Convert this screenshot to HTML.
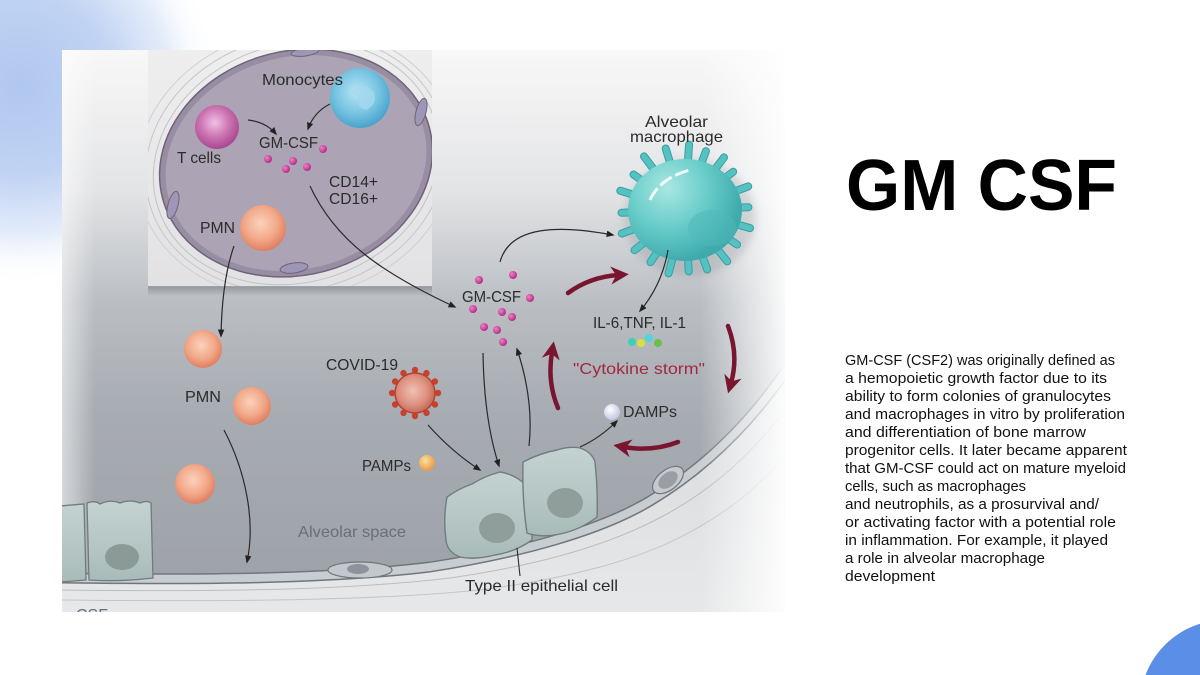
<!DOCTYPE html>
<html><head><meta charset="utf-8"><style>
html,body{margin:0;padding:0;background:#fff;width:1200px;height:675px;overflow:hidden;}
body{position:relative;}
svg{position:absolute;left:0;top:0;display:block;}
text{font-family:"Liberation Sans",sans-serif;}
</style></head><body>
<svg width="1200" height="675" viewBox="0 0 1200 675" xmlns="http://www.w3.org/2000/svg">
<defs>
  <radialGradient id="blob" gradientUnits="userSpaceOnUse" cx="20" cy="85" r="200">
    <stop offset="0" stop-color="#b0c7ef"/>
    <stop offset="0.45" stop-color="#c0d3f3"/>
    <stop offset="0.75" stop-color="#e4ecfa"/>
    <stop offset="1" stop-color="#ffffff" stop-opacity="0"/>
  </radialGradient>
  <linearGradient id="bgMain" gradientUnits="userSpaceOnUse" x1="0" y1="50" x2="0" y2="612">
    <stop offset="0" stop-color="#f8f8f8"/>
    <stop offset="0.25" stop-color="#e3e4e6"/>
    <stop offset="0.45" stop-color="#babec3"/>
    <stop offset="0.65" stop-color="#a7acb2"/>
    <stop offset="1" stop-color="#9ca1a7"/>
  </linearGradient>
  <linearGradient id="rightFade" gradientUnits="userSpaceOnUse" x1="700" y1="0" x2="785" y2="0">
    <stop offset="0" stop-color="#fff" stop-opacity="0"/>
    <stop offset="1" stop-color="#fff" stop-opacity="0.92"/>
  </linearGradient>
  <linearGradient id="leftFade" gradientUnits="userSpaceOnUse" x1="62" y1="0" x2="95" y2="0">
    <stop offset="0" stop-color="#fff" stop-opacity="0.55"/>
    <stop offset="1" stop-color="#fff" stop-opacity="0"/>
  </linearGradient>
  <linearGradient id="below" gradientUnits="userSpaceOnUse" x1="0" y1="380" x2="0" y2="612">
    <stop offset="0" stop-color="#d6d9dc"/>
    <stop offset="1" stop-color="#e7e8e9"/>
  </linearGradient>
  <linearGradient id="insetBg" gradientUnits="userSpaceOnUse" x1="0" y1="50" x2="0" y2="287">
    <stop offset="0" stop-color="#eeeeef"/>
    <stop offset="1" stop-color="#e2e2e4"/>
  </linearGradient>
  <linearGradient id="insetShadow" gradientUnits="userSpaceOnUse" x1="0" y1="286" x2="0" y2="296">
    <stop offset="0" stop-color="#7d8287" stop-opacity="0.7"/>
    <stop offset="1" stop-color="#7d8287" stop-opacity="0"/>
  </linearGradient>
  <radialGradient id="mono" cx="0.45" cy="0.4" r="0.6">
    <stop offset="0" stop-color="#b8e4f4"/>
    <stop offset="0.6" stop-color="#78c4e2"/>
    <stop offset="1" stop-color="#4aa3cc"/>
  </radialGradient>
  <radialGradient id="tcell" cx="0.45" cy="0.4" r="0.6">
    <stop offset="0" stop-color="#f0c0e4"/>
    <stop offset="0.55" stop-color="#cc74b2"/>
    <stop offset="1" stop-color="#a84890"/>
  </radialGradient>
  <radialGradient id="pmn" cx="0.45" cy="0.4" r="0.6">
    <stop offset="0" stop-color="#fbd2bc"/>
    <stop offset="0.6" stop-color="#f2a888"/>
    <stop offset="1" stop-color="#e07e62"/>
  </radialGradient>
  <radialGradient id="dot" cx="0.35" cy="0.35" r="0.7">
    <stop offset="0" stop-color="#f080c8"/>
    <stop offset="1" stop-color="#b02880"/>
  </radialGradient>
  <radialGradient id="macro" gradientUnits="userSpaceOnUse" cx="668" cy="188" r="75">
    <stop offset="0" stop-color="#a9e7e3"/>
    <stop offset="0.55" stop-color="#66cbc8"/>
    <stop offset="1" stop-color="#3eaaad"/>
  </radialGradient>
  <radialGradient id="covid" cx="0.45" cy="0.45" r="0.6">
    <stop offset="0" stop-color="#f0c0b0"/>
    <stop offset="0.6" stop-color="#dc9080"/>
    <stop offset="1" stop-color="#c2604e"/>
  </radialGradient>
  <radialGradient id="pamp" cx="0.4" cy="0.35" r="0.65">
    <stop offset="0" stop-color="#fde09a"/>
    <stop offset="1" stop-color="#e8984a"/>
  </radialGradient>
  <radialGradient id="damp" cx="0.4" cy="0.35" r="0.65">
    <stop offset="0" stop-color="#ffffff"/>
    <stop offset="1" stop-color="#c4c4e8"/>
  </radialGradient>
  <linearGradient id="epi" x1="0" y1="0" x2="0" y2="1">
    <stop offset="0" stop-color="#c4d3d1"/>
    <stop offset="1" stop-color="#a9bbb9"/>
  </linearGradient>
  <clipPath id="diagClip"><rect x="62" y="50" width="723" height="562"/></clipPath>
  <clipPath id="insetClip"><rect x="148" y="50" width="284" height="236"/></clipPath>
  <marker id="ah" viewBox="0 0 10 10" refX="8" refY="5" markerWidth="8" markerHeight="8" orient="auto" markerUnits="userSpaceOnUse">
    <path d="M0,1 L10,5 L0,9 Z" fill="#222"/>
  </marker>
  <marker id="rh" viewBox="0 0 10 10" refX="4" refY="5" markerWidth="18" markerHeight="18" orient="auto" markerUnits="userSpaceOnUse">
    <path d="M0,0 L10,5 L0,10 L3,5 Z" fill="#7a1530"/>
  </marker>
  <filter id="blur3" x="-30%" y="-30%" width="160%" height="160%"><feGaussianBlur stdDeviation="4"/></filter>
</defs>

<!-- page background decorations -->
<rect x="0" y="0" width="260" height="280" fill="url(#blob)"/>
<path d="M1145.5,675 A85,85 0 0,1 1200,623.8 L1200,675 Z" fill="#5b8ee6"/>

<!-- DIAGRAM -->
<g clip-path="url(#diagClip)">
  <rect x="62" y="50" width="723" height="562" fill="url(#bgMain)"/>
  <rect x="62" y="50" width="40" height="562" fill="url(#leftFade)"/>

  <!-- below membrane -->
  <path d="M62,578 C200,580 330,579 430,567 C520,553 600,531 650,501 C700,471 745,430 785,372 L785,612 L62,612 Z" fill="url(#below)"/>
  <path d="M62,590 C220,592 350,590 450,578 C540,565 610,545 665,515 C715,488 755,450 785,410" fill="none" stroke="#b9bec3" stroke-width="1"/>
  <path d="M62,600 C240,602 380,600 480,590 C570,578 640,560 690,532 C735,508 765,480 785,455" fill="none" stroke="#c2c6ca" stroke-width="1"/>
  <!-- membrane band -->
  <path d="M62,578 C200,580 330,579 430,567 C520,553 600,531 650,501 C700,471 745,430 785,372" fill="none" stroke="#6f767c" stroke-width="11"/>
  <path d="M62,578 C200,580 330,579 430,567 C520,553 600,531 650,501 C700,471 745,430 785,372" fill="none" stroke="#c8cdd1" stroke-width="8"/>

  <!-- right white fade -->
  <rect x="690" y="50" width="95" height="562" fill="url(#rightFade)"/>

  <!-- endothelial cells -->
  <ellipse cx="360" cy="570" rx="32" ry="8" fill="#c3c8cd" stroke="#6f767c" stroke-width="1.2"/>
  <ellipse cx="358" cy="569" rx="11" ry="5" fill="#8e929c"/>
  <ellipse cx="668" cy="480" rx="18" ry="10" transform="rotate(-38 668 480)" fill="#c6cace" stroke="#6f767c" stroke-width="1.2"/>
  <ellipse cx="668" cy="480" rx="11" ry="7" transform="rotate(-38 668 480)" fill="#9a9ea4"/>

  <!-- left epithelial cells -->
  <path d="M60,506 L84,504 L86,580 L60,582 Z" fill="url(#epi)" stroke="#6e7d7c" stroke-width="1.3"/>
  <path d="M87,503 Q95,500 100,504 Q110,499 120,503 Q130,499 140,503 Q147,500 151,503 L153,578 Q120,582 89,580 Z" fill="url(#epi)" stroke="#6e7d7c" stroke-width="1.3"/>
  <ellipse cx="122" cy="557" rx="17" ry="13" fill="#8b9997"/>

  <!-- Type II epithelial cells -->
  <path d="M447,497 Q460,488 472,484 Q485,476 500,472 Q515,474 527,486 Q533,515 532,540 Q515,552 495,555 Q475,560 460,557 Q447,552 446,540 Q443,518 447,497 Z" fill="url(#epi)" stroke="#6e7d7c" stroke-width="1.4"/>
  <ellipse cx="497" cy="528" rx="18" ry="15" fill="#8f9d9b"/>
  <path d="M523,462 Q540,453 557,450 Q570,446 580,448 Q592,452 595,462 Q598,490 597,517 Q580,530 560,534 Q540,538 527,533 Q522,500 523,462 Z" fill="url(#epi)" stroke="#6e7d7c" stroke-width="1.4"/>
  <ellipse cx="565" cy="503" rx="18" ry="15" fill="#8f9d9b"/>

  <!-- INSET -->
  <rect x="148" y="50" width="284" height="237" fill="url(#insetBg)"/>
  <rect x="148" y="286" width="284" height="10" fill="url(#insetShadow)"/>
  <g clip-path="url(#insetClip)">
    <ellipse cx="296" cy="163" rx="152" ry="127" transform="rotate(-15 296 163)" fill="none" stroke="#c6c6ca" stroke-width="1"/>
    <ellipse cx="296" cy="163" rx="160" ry="134" transform="rotate(-12 296 163)" fill="none" stroke="#cfcfd3" stroke-width="1"/>
    <ellipse cx="296" cy="163" rx="145" ry="119" transform="rotate(-18 296 163)" fill="none" stroke="#c2c2c6" stroke-width="1"/>
    <ellipse cx="296" cy="163" rx="138" ry="112" transform="rotate(-15 296 163)" fill="#988da3" stroke="#6f6378" stroke-width="1.5"/>
    <ellipse cx="296" cy="163" rx="132" ry="106" transform="rotate(-15 296 163)" fill="#aca4b4"/>
    <ellipse cx="173" cy="205" rx="5" ry="14" transform="rotate(15 173 205)" fill="#9d96b6" stroke="#6f6378" stroke-width="1"/>
    <ellipse cx="421" cy="112" rx="5" ry="14" transform="rotate(15 421 112)" fill="#9d96b6" stroke="#6f6378" stroke-width="1"/>
    <ellipse cx="294" cy="268" rx="14" ry="5" transform="rotate(-8 294 268)" fill="#9d96b6" stroke="#6f6378" stroke-width="1"/>
    <ellipse cx="305" cy="52" rx="14" ry="4" transform="rotate(-8 305 52)" fill="#9d96b6" stroke="#6f6378" stroke-width="1"/>
    <!-- cells -->
    <circle cx="360" cy="98" r="30" fill="url(#mono)"/>
    <path d="M352,92 Q362,80 374,92 Q378,104 366,110 Q356,108 360,100 Z" fill="#a4d8ee" opacity="0.8"/>
    <circle cx="217" cy="127" r="22" fill="url(#tcell)"/>
    <circle cx="263" cy="228" r="23" fill="url(#pmn)"/>
    <circle cx="268" cy="159" r="4" fill="url(#dot)"/>
    <circle cx="293" cy="161" r="4" fill="url(#dot)"/>
    <circle cx="286" cy="169" r="4" fill="url(#dot)"/>
    <circle cx="307" cy="167" r="4" fill="url(#dot)"/>
    <circle cx="323" cy="149" r="4" fill="url(#dot)"/>
  </g>

  <!-- Macrophage -->
  <ellipse cx="690" cy="218" rx="66" ry="58" fill="#7f868e" opacity="0.25" filter="url(#blur3)"/>
  <g fill="#55c1c0" stroke="#3a9fa2" stroke-width="1">
    <rect x="681" y="141" width="7" height="24" rx="3.5" transform="rotate(4 685 210)"/>
    <rect x="681" y="144" width="7" height="20" rx="3.5" transform="rotate(20 685 210)"/>
    <rect x="681" y="141" width="7" height="23" rx="3.5" transform="rotate(37 685 210)"/>
    <rect x="681" y="145" width="7" height="19" rx="3.5" transform="rotate(52 685 210)"/>
    <rect x="681" y="139" width="7" height="25" rx="3.5" transform="rotate(70 685 210)"/>
    <rect x="681" y="143" width="7" height="21" rx="3.5" transform="rotate(88 685 210)"/>
    <rect x="681" y="139" width="7" height="26" rx="3.5" transform="rotate(106 685 210)"/>
    <rect x="681" y="144" width="7" height="20" rx="3.5" transform="rotate(124 685 210)"/>
    <rect x="681" y="140" width="7" height="25" rx="3.5" transform="rotate(141 685 210)"/>
    <rect x="681" y="143" width="7" height="22" rx="3.5" transform="rotate(160 685 210)"/>
    <rect x="681" y="145" width="7" height="19" rx="3.5" transform="rotate(177 685 210)"/>
    <rect x="681" y="141" width="7" height="23" rx="3.5" transform="rotate(195 685 210)"/>
    <rect x="681" y="144" width="7" height="20" rx="3.5" transform="rotate(214 685 210)"/>
    <rect x="681" y="142" width="7" height="22" rx="3.5" transform="rotate(232 685 210)"/>
    <rect x="681" y="139" width="7" height="26" rx="3.5" transform="rotate(250 685 210)"/>
    <rect x="681" y="143" width="7" height="21" rx="3.5" transform="rotate(268 685 210)"/>
    <rect x="681" y="139" width="7" height="26" rx="3.5" transform="rotate(287 685 210)"/>
    <rect x="681" y="144" width="7" height="20" rx="3.5" transform="rotate(305 685 210)"/>
    <rect x="681" y="139" width="7" height="26" rx="3.5" transform="rotate(323 685 210)"/>
    <rect x="681" y="142" width="7" height="22" rx="3.5" transform="rotate(343 685 210)"/>
  </g>
  <ellipse cx="685" cy="210" rx="57" ry="51" fill="url(#macro)"/>
  <path d="M650,200 Q660,178 690,170" fill="none" stroke="#ffffff" stroke-width="3" stroke-dasharray="14 4" opacity="0.85"/>
  <ellipse cx="712" cy="228" rx="24" ry="18" fill="#4fb8b8" opacity="0.5"/>

  <!-- main GM-CSF dots -->
  <circle cx="479" cy="280" r="4" fill="url(#dot)"/>
  <circle cx="513" cy="275" r="4" fill="url(#dot)"/>
  <circle cx="530" cy="298" r="4" fill="url(#dot)"/>
  <circle cx="473" cy="309" r="4" fill="url(#dot)"/>
  <circle cx="502" cy="312" r="4" fill="url(#dot)"/>
  <circle cx="512" cy="317" r="4" fill="url(#dot)"/>
  <circle cx="484" cy="327" r="4" fill="url(#dot)"/>
  <circle cx="497" cy="330" r="4" fill="url(#dot)"/>
  <circle cx="503" cy="342" r="4" fill="url(#dot)"/>

  <!-- PMNs main -->
  <circle cx="203" cy="349" r="19" fill="url(#pmn)"/>
  <circle cx="252" cy="406" r="19" fill="url(#pmn)"/>
  <circle cx="195" cy="484" r="20" fill="url(#pmn)"/>

  <!-- COVID -->
  <g fill="#c8402e">
    <circle cx="438" cy="393" r="3.2"/><circle cx="434.9" cy="404.5" r="3.2"/><circle cx="426.5" cy="412.9" r="3.2"/>
    <circle cx="415" cy="416" r="3.2"/><circle cx="403.5" cy="412.9" r="3.2"/><circle cx="395.1" cy="404.5" r="3.2"/>
    <circle cx="392" cy="393" r="3.2"/><circle cx="395.1" cy="381.5" r="3.2"/><circle cx="403.5" cy="373.1" r="3.2"/>
    <circle cx="415" cy="370" r="3.2"/><circle cx="426.5" cy="373.1" r="3.2"/><circle cx="434.9" cy="381.5" r="3.2"/>
  </g>
  <circle cx="415" cy="393" r="20" fill="url(#covid)" stroke="#b8402e" stroke-width="1.5"/>

  <!-- PAMPs / DAMPs / cytokines -->
  <circle cx="427" cy="463" r="8" fill="url(#pamp)"/>
  <circle cx="612" cy="412" r="8" fill="url(#damp)"/>
  <circle cx="632" cy="342" r="4" fill="#3fcfb8"/>
  <circle cx="641" cy="343" r="4" fill="#d8e040"/>
  <circle cx="649" cy="338" r="4" fill="#4ad8d8"/>
  <circle cx="658" cy="343" r="4" fill="#6abf4a"/>

  <!-- thin arrows -->
  <g fill="none" stroke="#2a2a2a" stroke-width="1.2" marker-end="url(#ah)">
    <path d="M248,120 Q266,122 276,134"/>
    <path d="M330,104 Q314,112 308,129"/>
    <path d="M310,186 C335,240 380,272 455,307"/>
    <path d="M234,246 Q222,280 221,336"/>
    <path d="M224,430 C245,470 256,520 247,562"/>
    <path d="M500,262 C510,225 560,225 613,235"/>
    <path d="M668,250 Q662,285 640,311"/>
    <path d="M428,425 Q452,452 480,470"/>
    <path d="M483,353 Q484,420 499,466"/>
    <path d="M529,446 Q534,400 517,349"/>
    <path d="M580,447 Q600,438 617,421"/>
  </g>
  <path d="M517,548 L520,576" fill="none" stroke="#2a2a2a" stroke-width="1.1"/>

  <!-- red arrows -->
  <g fill="none" stroke="#7a1530" stroke-width="4.5" stroke-linecap="round" marker-end="url(#rh)">
    <path d="M568,293 Q590,277 618,275"/>
    <path d="M558,408 Q547,382 552,352"/>
    <path d="M728,326 Q739,355 731,383"/>
    <path d="M678,442 Q652,452 624,447"/>
  </g>

  <!-- labels -->
  <g font-size="16" fill="#2b2b2b">
    <text x="262" y="85" textLength="81" lengthAdjust="spacingAndGlyphs">Monocytes</text>
    <text x="177" y="163" textLength="44" lengthAdjust="spacingAndGlyphs">T cells</text>
    <text x="259" y="148" textLength="59" lengthAdjust="spacingAndGlyphs">GM-CSF</text>
    <text x="329" y="187" textLength="49" lengthAdjust="spacingAndGlyphs">CD14+</text>
    <text x="329" y="204" textLength="49" lengthAdjust="spacingAndGlyphs">CD16+</text>
    <text x="200" y="233" textLength="35" lengthAdjust="spacingAndGlyphs">PMN</text>
    <text x="645" y="127" textLength="63" lengthAdjust="spacingAndGlyphs">Alveolar</text>
    <text x="630" y="142" textLength="93" lengthAdjust="spacingAndGlyphs">macrophage</text>
    <text x="462" y="302" textLength="59" lengthAdjust="spacingAndGlyphs">GM-CSF</text>
    <text x="593" y="328" textLength="93" lengthAdjust="spacingAndGlyphs">IL-6,TNF, IL-1</text>
    <text x="326" y="370" textLength="72" lengthAdjust="spacingAndGlyphs">COVID-19</text>
    <text x="185" y="402" textLength="36" lengthAdjust="spacingAndGlyphs">PMN</text>
    <text x="623" y="417" textLength="54" lengthAdjust="spacingAndGlyphs">DAMPs</text>
    <text x="362" y="471" textLength="49" lengthAdjust="spacingAndGlyphs">PAMPs</text>
    <text x="465" y="591" textLength="153" lengthAdjust="spacingAndGlyphs">Type II epithelial cell</text>
  </g>
  <text x="573" y="374" font-size="16" fill="#a3283f" textLength="132" lengthAdjust="spacingAndGlyphs">"Cytokine storm"</text>
  <text x="298" y="537" font-size="16" fill="#6b6f74" textLength="108" lengthAdjust="spacingAndGlyphs">Alveolar space</text>
  <text x="76" y="620" font-size="16" fill="#6b6f74">CSF</text>
</g>

<!-- Title -->
<text x="846" y="210" font-size="72" font-weight="700" fill="#000" textLength="271" lengthAdjust="spacingAndGlyphs">GM CSF</text>

<!-- Paragraph -->
<g font-size="15" fill="#111">
  <text x="845" y="365" textLength="270" lengthAdjust="spacingAndGlyphs">GM-CSF (CSF2) was originally defined as</text>
  <text x="845" y="383" textLength="262" lengthAdjust="spacingAndGlyphs">a hemopoietic growth factor due to its</text>
  <text x="845" y="401" textLength="266" lengthAdjust="spacingAndGlyphs">ability to form colonies of granulocytes</text>
  <text x="845" y="419" textLength="280" lengthAdjust="spacingAndGlyphs">and macrophages in vitro by proliferation</text>
  <text x="845" y="437" textLength="241" lengthAdjust="spacingAndGlyphs">and differentiation of bone marrow</text>
  <text x="845" y="455" textLength="282" lengthAdjust="spacingAndGlyphs">progenitor cells. It later became apparent</text>
  <text x="845" y="473" textLength="281" lengthAdjust="spacingAndGlyphs">that GM-CSF could act on mature myeloid</text>
  <text x="845" y="491" textLength="181" lengthAdjust="spacingAndGlyphs">cells, such as macrophages</text>
  <text x="845" y="509" textLength="254" lengthAdjust="spacingAndGlyphs">and neutrophils, as a prosurvival and/</text>
  <text x="845" y="527" textLength="271" lengthAdjust="spacingAndGlyphs">or activating factor with a potential role</text>
  <text x="845" y="545" textLength="263" lengthAdjust="spacingAndGlyphs">in inflammation. For example, it played</text>
  <text x="845" y="563" textLength="200" lengthAdjust="spacingAndGlyphs">a role in alveolar macrophage</text>
  <text x="845" y="581" textLength="90" lengthAdjust="spacingAndGlyphs">development</text>
</g>
</svg>
</body></html>
